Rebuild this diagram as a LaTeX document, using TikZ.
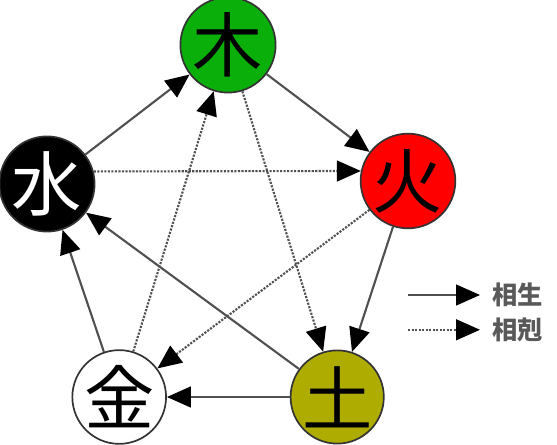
\documentclass[tikz,border=0pt]{standalone}
\usepackage{fontspec}
\newfontfamily\cjk{Noto Sans CJK JP}
\usetikzlibrary{arrows.meta,positioning}
\definecolor{woodgreen}{RGB}{10,175,10}
\definecolor{earthyellow}{RGB}{175,172,0}
\definecolor{linegray}{RGB}{80,80,80}

\begin{document}
\begin{tikzpicture}[
        element/.style = {circle, draw = black!80, line width = 1.2pt, minimum size = 2.2cm, inner sep = 0, font = \cjk\fontsize{50}{50}\selectfont},
        sheng/.style = {linegray, line width = 1.5pt, -{Triangle[length = 0.6cm, width = 0.52cm, color = black]}},
        ke/.style = {sheng, dash pattern = on 1.5pt off 1pt},
        legendtext/.style = {font = \cjk\bfseries\fontsize{18}{18}\selectfont, text = black!65, inner sep = 0}
    ]
        \useasboundingbox (0,0) rectangle (13.925,11.125);

        % Define center points
        \node[element, fill = woodgreen] (mu) at (5.7,10.0) {木};
        \node[element, fill = red] (huo) at (10.2,6.6) {火};
        \node[element, fill = earthyellow] (tu) at (8.43,1.2) {土};
        \node[element, fill = white] (jin) at (2.98,1.2) {金};
        \node[element, fill = black, text = white] (shui) at (1.175,6.525) {水};

        % sheng cycle
        \draw[sheng] (shui) -- (mu);
        \draw[sheng] (mu) -- (huo);
        \draw[sheng] (huo) -- (tu);
        \draw[sheng] (tu) -- (jin);
        \draw[sheng] (jin) -- (shui);

        % ke cycle
        \draw[ke] (shui.15) -- (huo.168);
        \draw[ke] (mu) -- (tu);
        \draw[ke] (huo) -- (jin);
        \draw[ke] (jin) -- (mu);
        \draw[sheng] (tu) -- (shui);

        % legend
        \coordinate (shengStart) at (10.2,3.75);
        \coordinate (shengEnd) at (12.0,3.75);
        \coordinate (keStart) at (10.2,2.88);
        \coordinate (keEnd) at (12.0,2.88);
        \draw[sheng] (shengStart) -- (shengEnd);
        \draw[ke] (keStart) -- (keEnd);
        \node[legendtext, right = 0.3cm of shengEnd] (shengTxt) {相生};
        \node[legendtext, right = 0.3cm of keEnd] (keTxt) {相剋};
    \end{tikzpicture}
\end{document}
